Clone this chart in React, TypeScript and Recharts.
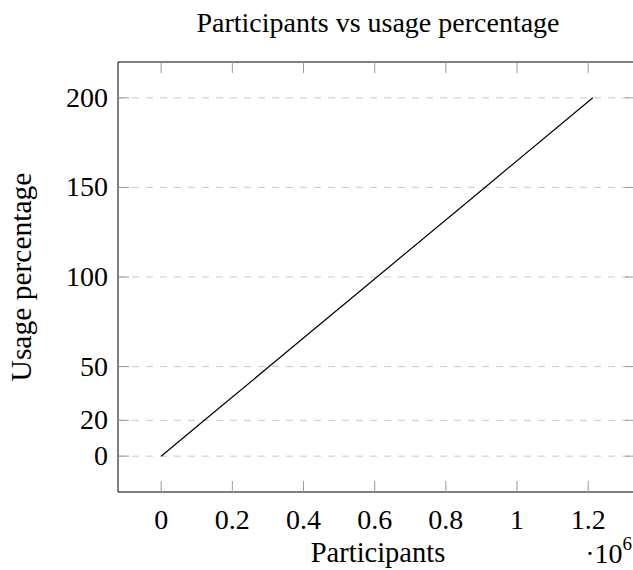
import { CartesianGrid, Line, LineChart, XAxis, YAxis } from 'recharts';

const participants = [0, 121300, 303250, 606500, 909750, 1213000];
const usage = [0, 20, 50, 100, 150, 200];
const xTicks = [0, 200000, 400000, 600000, 800000, 1000000, 1200000];
const yTicks = [0, 20, 50, 100, 150, 200];

const chartData = participants.map((p, i) => ({ participants: p, usage: usage[i] }));

const FONT = '"Liberation Serif", "DejaVu Serif", serif';
const TICK_COLOR = '#9a9a9a';

function formatMillions(value: number): string {
  return String(Math.round((value / 1e6) * 10) / 10);
}

function BottomTick({ x, y, payload }: any) {
  return (
    <g>
      <line x1={x} y1={y} x2={x} y2={y - 11} stroke={TICK_COLOR} />
      <text x={x} y={y + 37} textAnchor="middle" fontSize={28} fontFamily={FONT} fill="#000">
        {formatMillions(payload.value)}
      </text>
    </g>
  );
}

function TopTick({ x, y }: any) {
  return <line x1={x} y1={y} x2={x} y2={y + 11} stroke={TICK_COLOR} />;
}

function LeftTick({ x, y, payload }: any) {
  return (
    <g>
      <line x1={x} y1={y} x2={x + 11} y2={y} stroke={TICK_COLOR} />
      <text x={x - 10} y={y + 9} textAnchor="end" fontSize={28} fontFamily={FONT} fill="#000">
        {payload.value}
      </text>
    </g>
  );
}

function RightTick({ x, y }: any) {
  return <line x1={x} y1={y} x2={x - 11} y2={y} stroke={TICK_COLOR} />;
}

export default function App() {
  return (
    <div style={{ position: 'relative', width: 633, height: 570, overflow: 'hidden', background: '#fff' }}>
      <style>{'body { margin: 0; }'}</style>
      <LineChart
        width={660}
        height={570}
        data={chartData}
        margin={{ top: 61, right: 23, left: 117, bottom: 0 }}
      >
        <CartesianGrid
          horizontal
          vertical={false}
          stroke="#c8c8c8"
          strokeDasharray="7 7"
          horizontalValues={yTicks}
          xAxisId="bottom"
          yAxisId="left"
        />
        <XAxis
          xAxisId="bottom"
          type="number"
          dataKey="participants"
          domain={[-121300, 1334300]}
          allowDataOverflow
          ticks={xTicks}
          tick={<BottomTick />}
          tickSize={0}
          tickMargin={0}
          axisLine={{ stroke: '#000' }}
          height={78}
        />
        <XAxis
          xAxisId="top"
          orientation="top"
          type="number"
          dataKey="participants"
          domain={[-121300, 1334300]}
          allowDataOverflow
          ticks={xTicks}
          tick={<TopTick />}
          tickSize={0}
          tickMargin={0}
          axisLine={{ stroke: '#000' }}
          height={1}
        />
        <YAxis
          yAxisId="left"
          type="number"
          domain={[-20, 220]}
          allowDataOverflow
          ticks={yTicks}
          tick={<LeftTick />}
          tickSize={0}
          tickMargin={0}
          axisLine={{ stroke: '#000' }}
          width={1}
        />
        <YAxis
          yAxisId="right"
          orientation="right"
          type="number"
          domain={[-20, 220]}
          allowDataOverflow
          ticks={yTicks}
          tick={<RightTick />}
          tickSize={0}
          tickMargin={0}
          axisLine={{ stroke: '#000' }}
          width={1}
        />
        <Line
          xAxisId="bottom"
          yAxisId="left"
          type="linear"
          dataKey="usage"
          stroke="#000"
          strokeWidth={1.2}
          dot={false}
          isAnimationActive={false}
        />
        <text x={378} y={32} textAnchor="middle" fontSize={28} fontFamily={FONT} fill="#000">
          Participants vs usage percentage
        </text>
        <text x={378} y={562} textAnchor="middle" fontSize={28.5} fontFamily={FONT} fill="#000">
          Participants
        </text>
        <text x={632} y={563} textAnchor="end" fontSize={28} fontFamily={FONT} fill="#000">
          ·10
          <tspan fontSize={19} dy={-13}>6</tspan>
        </text>
        <text
          x={31}
          y={277}
          transform="rotate(-90 31 277)"
          textAnchor="middle"
          fontSize={29.5}
          fontFamily={FONT}
          fill="#000"
        >
          Usage percentage
        </text>
      </LineChart>
    </div>
  );
}
